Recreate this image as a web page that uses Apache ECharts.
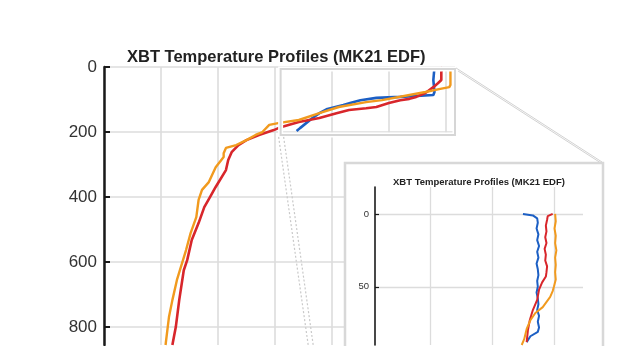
<!DOCTYPE html>
<html><head><meta charset="utf-8">
<script src="https://cdn.jsdelivr.net/npm/echarts@6/dist/echarts.min.js"></script>
<style>html,body{margin:0;padding:0;background:#fff;}#c{width:640px;height:360px;}</style>
</head><body><div id="c"></div>
<script>
// ---- text ----
const titleText = 'XBT Temperature Profiles (MK21 EDF)';
const mainDepthTicks = [0, 200, 400, 600, 800];
const insetDepthTicks = [0, 50];

// ---- main chart profiles: depth (m) and temperature (°C) ----
const blueDepth = [0, 40, 77, 86, 92, 95, 102, 111, 117, 129, 142, 157, 188, 197];
const blueTemp  = [29.0, 28.9, 29.0, 28.9, 26.0, 23.9, 22.5, 21.6, 21.0, 19.6, 18.9, 18.3, 17.2, 16.9];

const redDepth = [0, 15, 40, 50, 62, 80, 92, 98, 102, 111, 123, 127, 132, 142, 157, 169, 185, 194, 209, 225, 240, 262, 286, 317, 369, 400, 431, 480, 532, 594, 625, 717, 800, 855];
const redTemp  = [29.7, 29.6, 29.6, 29.3, 28.9, 28.2, 27.4, 26.8, 26.0, 25.0, 23.9, 23.0, 21.5, 20.4, 18.9, 17.1, 15.5, 14.9, 13.6, 12.5, 11.8, 11.2, 10.9, 10.7, 9.8, 9.3, 8.8, 8.3, 7.7, 7.3, 7.0, 6.6, 6.3, 6.0];

const orangeDepth = [0, 55, 62, 68, 77, 86, 102, 108, 123, 142, 163, 172, 178, 200, 209, 225, 240, 249, 265, 277, 308, 354, 378, 409, 462, 511, 563, 655, 717, 769, 855];
const orangeTemp  = [30.4, 30.4, 30.3, 29.4, 28.2, 26.8, 24.4, 23.0, 20.6, 18.9, 17.1, 15.4, 14.5, 13.9, 13.3, 12.5, 11.6, 10.7, 10.5, 10.5, 9.8, 9.2, 8.6, 8.3, 8.1, 7.6, 7.2, 6.4, 6.0, 5.7, 5.4];

// ---- inset (upper 90 m) profiles ----
const insetBlueDepth = [0, 1, 3, 6, 10, 14, 18, 22, 26, 30, 34, 38, 42, 46, 50, 54, 58, 62, 66, 70, 74, 78, 81, 84, 88];
const insetBlueTemp  = [29.50, 29.66, 29.73, 29.74, 29.72, 29.75, 29.73, 29.76, 29.73, 29.75, 29.72, 29.74, 29.75, 29.73, 29.74, 29.72, 29.74, 29.75, 29.73, 29.76, 29.74, 29.76, 29.74, 29.62, 29.56];

const insetRedDepth = [0, 1.5, 4, 8, 12, 16, 20, 24, 28, 32, 36, 40, 43, 47, 52, 59, 66, 73, 80, 88];
const insetRedTemp  = [29.98, 29.90, 29.89, 29.87, 29.88, 29.86, 29.88, 29.85, 29.87, 29.86, 29.89, 29.88, 29.87, 29.81, 29.76, 29.73, 29.66, 29.61, 29.58, 29.56];

const insetOrangeDepth = [0, 5, 10, 15, 20, 25, 30, 35, 40, 45, 50, 53, 57, 64, 68, 73, 79, 86, 90];
const insetOrangeTemp  = [30.02, 30.03, 30.01, 30.03, 30.02, 30.04, 30.02, 30.03, 30.02, 30.03, 30.00, 29.98, 29.94, 29.82, 29.70, 29.62, 29.56, 29.52, 29.48];

// magnified region in main-chart data units
const lensTemp = [15.5, 30.8];
const lensDepth = [6, 209];

const FONT = '"Liberation Sans", Arial, Helvetica, sans-serif';
const pair = (t, d) => t.map((v, i) => [v, d[i]]);
const C_BLUE = '#1c5fc4', C_RED = '#d8262b', C_ORANGE = '#f19a1e';
const GRIDC = '#dcdcdc';

const chart = echarts.init(document.getElementById('c'), null, {renderer: 'canvas'});

function lineSeries(name, data, color, xi, w, z) {
  return {name, type: 'line', xAxisIndex: xi, yAxisIndex: xi, data, showSymbol: false, symbol: 'none',
    lineStyle: {color, width: w}, itemStyle: {color}, z, animation: false, silent: true};
}

chart.setOption({
  animation: false,
  backgroundColor: '#fff',
  title: [
    {text: titleText, left: 127, top: 49, padding: 0, z: 8,
     textStyle: {fontFamily: FONT, fontSize: 16.5, fontWeight: 'bold', color: '#222'}},
    {text: titleText, left: 393, top: 177, padding: 0, z: 8,
     textStyle: {fontFamily: FONT, fontSize: 9.5, fontWeight: 'bold', color: '#222'}}
  ],
  grid: [
    {left: 104, right: 185, top: 67, bottom: 15},
    {left: 375, right: 57, top: 187, bottom: 15, z: 6}
  ],
  xAxis: [
    {gridIndex: 0, type: 'value', min: 0, max: 30.8, interval: 5,
     axisLine: {show: false}, axisTick: {show: false}, axisLabel: {show: false},
     splitLine: {show: true, showMaxLine: false, lineStyle: {color: GRIDC, width: 1.6}}},
    {gridIndex: 1, type: 'value', min: 27.11, max: 30.47, minInterval: 1, maxInterval: 1, z: 6,
     axisLine: {show: false}, axisTick: {show: false}, axisLabel: {show: false},
     splitLine: {show: true, showMinLine: false, showMaxLine: false, lineStyle: {color: GRIDC, width: 1.3}}}
  ],
  yAxis: [
    {gridIndex: 0, type: 'value', inverse: true, min: 0, max: 855,
     axisLine: {show: true, onZero: false, lineStyle: {color: '#1a1a1a', width: 2.5}},
     axisTick: {show: true, inside: true, length: 6, customValues: mainDepthTicks, lineStyle: {color: '#1a1a1a', width: 2}},
     axisLabel: {show: true, margin: 7, customValues: mainDepthTicks,
       fontFamily: FONT, fontSize: 17, color: '#333'},
     splitLine: {show: true, lineStyle: {color: GRIDC, width: 1.6}}},
    {gridIndex: 1, type: 'value', inverse: true, min: -18.5, max: 90, z: 6,
     axisLine: {show: true, onZero: false, lineStyle: {color: '#1a1a1a', width: 1.6}},
     axisTick: {show: true, inside: true, length: 4, customValues: insetDepthTicks, lineStyle: {color: '#1a1a1a', width: 1.2}},
     axisLabel: {show: true, margin: 6, customValues: insetDepthTicks,
       fontFamily: FONT, fontSize: 9.5, color: '#333'},
     splitLine: {show: true, lineStyle: {color: GRIDC, width: 1.3}}}
  ],
  series: [
    lineSeries('MK21 A', pair(blueTemp, blueDepth), C_BLUE, 0, 2.6, 2),
    lineSeries('MK21 B', pair(redTemp, redDepth), C_RED, 0, 2.6, 3),
    lineSeries('MK21 C', pair(orangeTemp, orangeDepth), C_ORANGE, 0, 2.4, 3),
    lineSeries('MK21 A inset', pair(insetBlueTemp, insetBlueDepth), C_BLUE, 1, 2, 7),
    lineSeries('MK21 B inset', pair(insetRedTemp, insetRedDepth), C_RED, 1, 2, 7),
    lineSeries('MK21 C inset', pair(insetOrangeTemp, insetOrangeDepth), C_ORANGE, 1, 2, 7)
  ]
});

// lens rectangle, connectors and inset panel (decoration)
const tl = chart.convertToPixel({gridIndex: 0}, [lensTemp[0], lensDepth[0]]);
const br = chart.convertToPixel({gridIndex: 0}, [lensTemp[1], lensDepth[1]]);
const panel = {x: 345, y: 163, w: 258, h: 427};
const dash = {stroke: '#c9c9c9', lineWidth: 1.2, lineDash: [2, 2]};
const solid = {stroke: '#d2d2d2', lineWidth: 1};
chart.setOption({
  graphic: [
    {type: 'rect', z: 4, silent: true, shape: {x: tl[0], y: tl[1], width: br[0] - tl[0], height: br[1] - tl[1]},
     style: {fill: 'none', stroke: '#fff', lineWidth: 5}},
    {type: 'rect', z: 4, silent: true, shape: {x: tl[0], y: tl[1], width: br[0] - tl[0], height: br[1] - tl[1]},
     style: {fill: 'none', stroke: '#d6d6d6', lineWidth: 2}},
    {type: 'rect', z: 4, silent: true, shape: {x: br[0] - 118, y: br[1] + 2, width: 122, height: panel.y - br[1] - 3},
     style: {fill: '#fff', stroke: 'none'}},
    {type: 'line', z: 4, silent: true, shape: {x1: br[0] + 1, y1: tl[1] - 1, x2: panel.x + panel.w - 1, y2: panel.y - 1}, style: solid},
    {type: 'line', z: 4, silent: true, shape: {x1: br[0] + 3, y1: tl[1] + 2, x2: panel.x + panel.w + 1, y2: panel.y + 2}, style: solid},
    {type: 'line', z: 4, silent: true, shape: {x1: tl[0] - 2, y1: br[1] + 2, x2: panel.x - 2, y2: panel.y + panel.h}, style: dash},
    {type: 'line', z: 4, silent: true, shape: {x1: tl[0] + 3, y1: br[1] + 2, x2: panel.x + 3, y2: panel.y + panel.h}, style: dash},
    {type: 'rect', z: 5, silent: true, shape: {x: panel.x, y: panel.y, width: panel.w, height: panel.h},
     style: {fill: '#fff', stroke: '#d8d8d8', lineWidth: 2.5}},
    {type: 'rect', z: 100, silent: true, shape: {x: 0, y: 346, width: 640, height: 14},
     style: {fill: '#fff', stroke: 'none'}}
  ]
});
</script>
</body></html>
